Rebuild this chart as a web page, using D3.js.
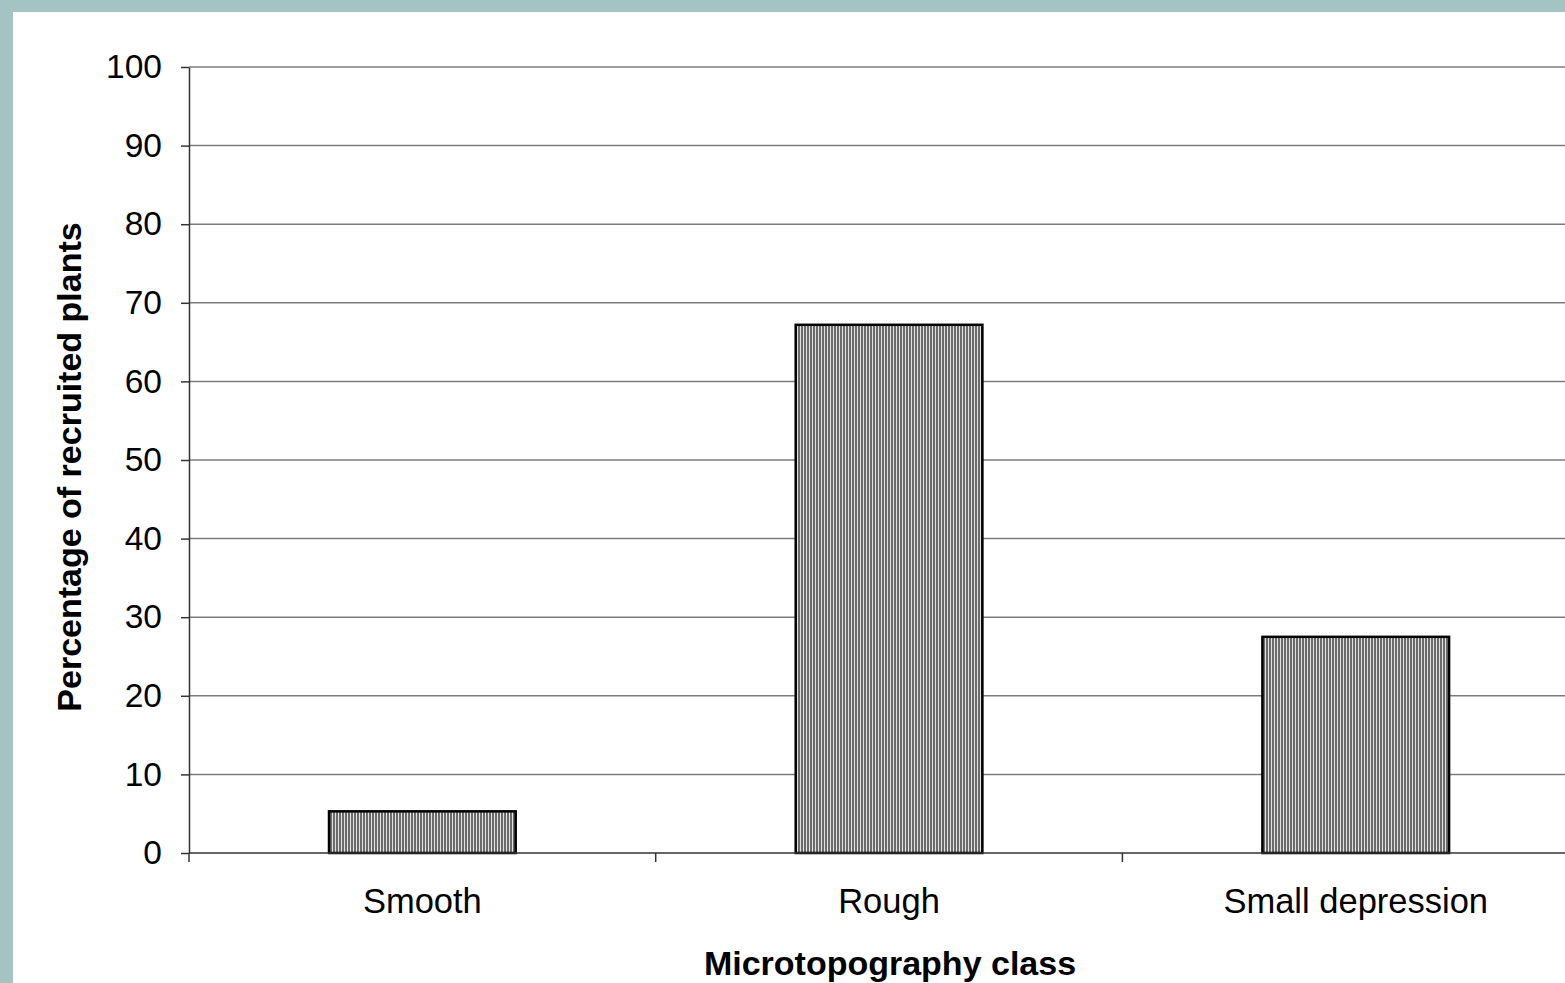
<!DOCTYPE html>
<html>
<head>
<meta charset="utf-8">
<script src="https://cdn.jsdelivr.net/npm/d3@7"></script>
<style>
  html, body { margin: 0; padding: 0; background: #a3c4c3; overflow: hidden; }
  svg { display: block; }
</style>
</head>
<body>
<svg id="chart" width="1565" height="983"></svg>
<script>
// Share of recruited plants by microtopography class
const categories = ["Smooth", "Rough", "Small depression"];
const values = [5.3, 67.2, 27.5];
const yTicks = [0, 10, 20, 30, 40, 50, 60, 70, 80, 90, 100];

(function () {
  const W = 1565, H = 983;
  const svg = d3.select("#chart");
  const font = "'Liberation Sans', Arial, sans-serif";

  // white panel inside the teal frame
  svg.append("rect").attr("x", 13).attr("y", 12).attr("width", W - 13).attr("height", H - 12).attr("fill", "#ffffff");

  // vertical hatch fill for the bars
  const defs = svg.append("defs");
  const pat = defs.append("pattern").attr("id", "vstripe")
    .attr("patternUnits", "userSpaceOnUse").attr("width", 3).attr("height", 10);
  pat.append("rect").attr("x", 0).attr("y", 0).attr("width", 3).attr("height", 10).attr("fill", "#e2e2e2");
  pat.append("rect").attr("x", 0).attr("y", 0).attr("width", 2).attr("height", 10).attr("fill", "#6c6c6c");

  const plotLeft = 189, plotTop = 67, plotBottom = 853;
  const bandW = 466.7;
  const x = d3.scaleBand().domain(categories)
    .range([plotLeft, plotLeft + bandW * categories.length])
    .paddingInner(0.6).paddingOuter(0.3);
  const y = d3.scaleLinear().domain([0, 100]).range([plotBottom, plotTop]);

  // horizontal gridlines
  svg.append("g").selectAll("line").data(yTicks.filter(d => d > 0)).join("line")
    .attr("x1", plotLeft).attr("x2", W).attr("y1", d => y(d)).attr("y2", d => y(d))
    .attr("stroke", "#7c7c7c").attr("stroke-width", 1.5);

  // bars
  svg.append("g").selectAll("rect").data(values).join("rect")
    .attr("x", (d, i) => x(categories[i]))
    .attr("y", d => y(d))
    .attr("width", x.bandwidth())
    .attr("height", d => plotBottom - y(d))
    .attr("fill", "url(#vstripe)")
    .attr("stroke", "#000").attr("stroke-width", 2.5);

  // y axis
  const yAxis = svg.append("g").attr("transform", `translate(${plotLeft},0)`)
    .call(d3.axisLeft(y).tickValues(yTicks).tickSize(8).tickPadding(19).tickSizeOuter(0));
  yAxis.select(".domain").attr("stroke", "#333").attr("stroke-width", 1.5);
  yAxis.selectAll(".tick line").attr("stroke", "#333").attr("stroke-width", 1.5);
  yAxis.selectAll("text").attr("font-family", font).attr("font-size", 33.5).attr("fill", "#000");

  // x axis baseline and category boundary ticks
  const bounds = d3.range(categories.length + 1).map(i => plotLeft + i * bandW);
  svg.append("line").attr("x1", plotLeft).attr("x2", W).attr("y1", plotBottom).attr("y2", plotBottom)
    .attr("stroke", "#333").attr("stroke-width", 1.5);
  svg.append("g").selectAll("line").data(bounds).join("line")
    .attr("x1", d => d).attr("x2", d => d).attr("y1", plotBottom).attr("y2", plotBottom + 9)
    .attr("stroke", "#333").attr("stroke-width", 1.5);

  // category labels
  svg.append("g").selectAll("text").data(categories).join("text")
    .attr("x", d => x(d) + x.bandwidth() / 2)
    .attr("y", 913)
    .attr("text-anchor", "middle")
    .attr("font-family", font).attr("font-size", 34.5).attr("fill", "#000")
    .text(d => d);

  // axis titles
  svg.append("text")
    .attr("x", 890).attr("y", 975)
    .attr("text-anchor", "middle")
    .attr("font-family", font).attr("font-size", 34).attr("font-weight", "bold")
    .text("Microtopography class");

  svg.append("text")
    .attr("transform", "translate(81,467) rotate(-90)")
    .attr("text-anchor", "middle")
    .attr("font-family", font).attr("font-size", 34).attr("font-weight", "bold")
    .text("Percentage of recruited plants");
})();
</script>
</body>
</html>
